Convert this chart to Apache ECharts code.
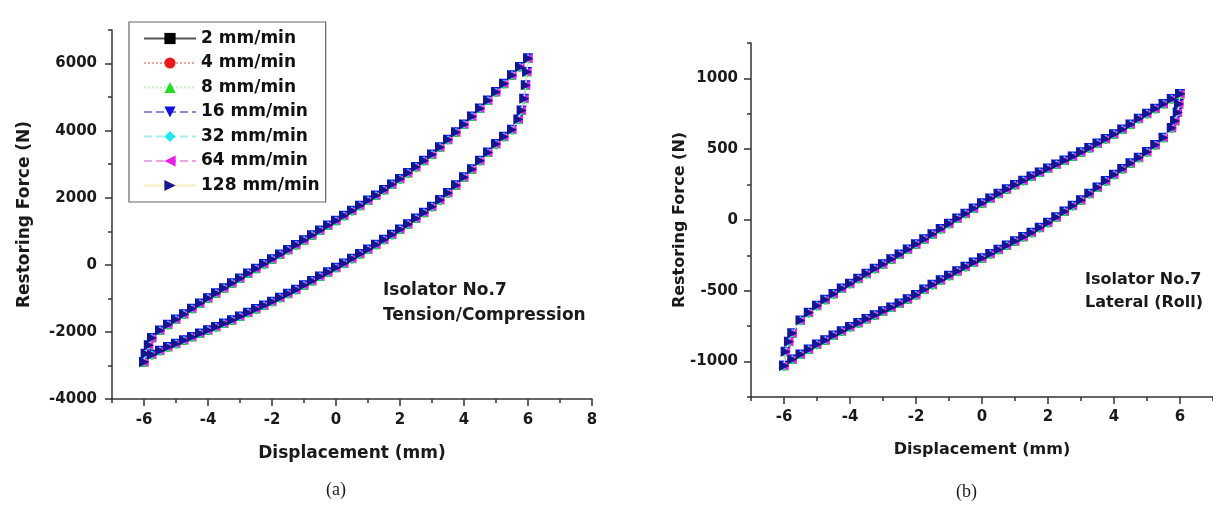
<!DOCTYPE html>
<html>
<head>
<meta charset="utf-8">
<script src="https://cdn.jsdelivr.net/npm/echarts/dist/echarts.min.js"></script>
<style>
  html, body { margin: 0; padding: 0; background: #fff; }
  #main { width: 1213px; height: 505px; }
</style>
</head>
<body>
<div id="main"></div>
<script>
// loading rates (legend entries)
var speeds = ['2 mm/min', '4 mm/min', '8 mm/min', '16 mm/min', '32 mm/min', '64 mm/min', '128 mm/min'];

// (a) tension / compression loop, loading branch then unloading branch
var leftUpX = [-6, -5.95, -5.85, -5.75, -5.5, -5.25, -5, -4.75, -4.5, -4.25, -4, -3.75, -3.5, -3.25, -3, -2.75, -2.5, -2.25, -2, -1.75, -1.5, -1.25, -1, -0.75, -0.5, -0.25, 0, 0.25, 0.5, 0.75, 1, 1.25, 1.5, 1.75, 2, 2.25, 2.5, 2.75, 3, 3.25, 3.5, 3.75, 4, 4.25, 4.5, 4.75, 5, 5.25, 5.5, 5.75, 6];
var leftUpY = [-2900, -2650, -2400, -2180, -1960, -1790, -1630, -1470, -1310, -1155, -1000, -850, -700, -550, -405, -260, -115, 25, 165, 305, 445, 590, 735, 880, 1025, 1170, 1315, 1460, 1610, 1760, 1915, 2070, 2230, 2395, 2560, 2735, 2915, 3100, 3290, 3505, 3730, 3950, 4180, 4420, 4660, 4900, 5150, 5400, 5650, 5900, 6150];
var leftDownX = [6, 5.97, 5.93, 5.88, 5.8, 5.7, 5.5, 5.25, 5, 4.75, 4.5, 4.25, 4, 3.75, 3.5, 3.25, 3, 2.75, 2.5, 2.25, 2, 1.75, 1.5, 1.25, 1, 0.75, 0.5, 0.25, 0, -0.25, -0.5, -0.75, -1, -1.25, -1.5, -1.75, -2, -2.25, -2.5, -2.75, -3, -3.25, -3.5, -3.75, -4, -4.25, -4.5, -4.75, -5, -5.25, -5.5, -5.75, -6];
var leftDownY = [6150, 5750, 5350, 4950, 4600, 4330, 4030, 3820, 3600, 3350, 3100, 2850, 2610, 2370, 2140, 1930, 1730, 1550, 1380, 1210, 1050, 900, 750, 600, 460, 320, 180, 40, -90, -220, -350, -480, -610, -740, -860, -980, -1100, -1210, -1320, -1430, -1540, -1650, -1750, -1850, -1950, -2050, -2150, -2250, -2350, -2450, -2560, -2680, -2900];

// (b) lateral (roll) loop
var rightUpX = [-6, -5.95, -5.85, -5.75, -5.5, -5.25, -5, -4.75, -4.5, -4.25, -4, -3.75, -3.5, -3.25, -3, -2.75, -2.5, -2.25, -2, -1.75, -1.5, -1.25, -1, -0.75, -0.5, -0.25, 0, 0.25, 0.5, 0.75, 1, 1.25, 1.5, 1.75, 2, 2.25, 2.5, 2.75, 3, 3.25, 3.5, 3.75, 4, 4.25, 4.5, 4.75, 5, 5.25, 5.5, 5.75, 6];
var rightUpY = [-1030, -930, -860, -800, -710, -655, -605, -563, -522, -484, -450, -415, -380, -345, -312, -278, -244, -208, -172, -136, -100, -63, -27, 10, 45, 82, 118, 152, 185, 217, 248, 278, 307, 336, 364, 392, 420, 448, 478, 508, 540, 572, 605, 640, 675, 715, 750, 785, 820, 855, 890];
var rightDownX = [6, 5.97, 5.93, 5.85, 5.75, 5.5, 5.25, 5, 4.75, 4.5, 4.25, 4, 3.75, 3.5, 3.25, 3, 2.75, 2.5, 2.25, 2, 1.75, 1.5, 1.25, 1, 0.75, 0.5, 0.25, 0, -0.25, -0.5, -0.75, -1, -1.25, -1.5, -1.75, -2, -2.25, -2.5, -2.75, -3, -3.25, -3.5, -3.75, -4, -4.25, -4.5, -4.75, -5, -5.25, -5.5, -5.75, -6];
var rightDownY = [890, 820, 760, 700, 650, 580, 530, 480, 440, 400, 360, 320, 275, 230, 185, 140, 100, 60, 20, -20, -55, -90, -120, -150, -180, -210, -240, -270, -300, -330, -362, -393, -425, -458, -490, -530, -560, -590, -618, -645, -672, -700, -728, -755, -785, -815, -850, -880, -915, -950, -985, -1030];

var FONT = 'DejaVu Sans';
var INK = '#1a1a1a';

function loop(upX, upY, downX, downY) {
  var pts = [];
  upX.forEach(function (x, i) { pts.push([x, upY[i]]); });
  downX.forEach(function (x, i) { pts.push([x, downY[i]]); });
  return pts;
}

// marker / line look of each rate
var looks = [
  {symbol: 'rect', size: 8, color: '#000000', line: '#555555', type: 'solid'},
  {symbol: 'circle', size: 9, color: '#ee1a1a', line: '#f2a3a3', type: 'dotted'},
  {symbol: 'triangle', size: 9, color: '#22dd22', line: '#c5efc5', type: 'dotted'},
  {symbol: 'path://M0,0 L10,0 L5,10 Z', size: 10, color: '#1010e0', line: '#8c8cd0', type: 'dashed'},
  {symbol: 'diamond', size: 9, color: '#22e6ee', line: '#a8ecf2', type: 'dashed'},
  {symbol: 'path://M10,0 L10,10 L0,5 Z', size: 9, color: '#e81ee8', line: '#e6a8e6', type: 'dashed'},
  {symbol: 'path://M0,0 L0,10 L10,5 Z', size: 10, color: '#15158f', line: '#f3efc4', type: 'solid'}
];

function buildSeries(xIdx, yIdx, pts) {
  return speeds.map(function (name, k) {
    var lk = looks[k];
    return {
      name: name,
      type: 'line',
      xAxisIndex: xIdx,
      yAxisIndex: yIdx,
      data: pts,
      symbol: lk.symbol,
      symbolSize: lk.size,
      showAllSymbol: true,
      itemStyle: {color: lk.color},
      lineStyle: {color: lk.line, width: 0.8, type: lk.type},
      z: 3 + k
    };
  });
}

var tickStyle = {color: '#333', width: 1.5};
var plain = function (v) { return String(v); };
function labelStyle(margin, extra) {
  return Object.assign({margin: margin, fontFamily: FONT, fontWeight: 'bold', fontSize: 15, color: INK, formatter: plain}, extra || {});
}
function nameStyle(size) {
  return {fontFamily: FONT, fontWeight: 'bold', fontSize: size, color: INK};
}

// axis with its line, ticks and title
function frameAxis(grid, min, max, step, name, gap, nameSize, labels) {
  return {
    type: 'value', gridIndex: grid, min: min, max: max, interval: step,
    axisLine: {onZero: false, lineStyle: {color: '#333', width: 1.5}},
    axisTick: {length: labels ? 7 : 4, lineStyle: tickStyle},
    axisLabel: labels ? labelStyle(labels.margin, {showMaxLabel: false}) : {show: false},
    splitLine: {show: false},
    name: name, nameLocation: 'middle', nameGap: gap, nameTextStyle: nameStyle(nameSize)
  };
}
// extra tick rows (long ticks + labels, or short minor ticks) without a line
function tickAxis(grid, pos, min, max, step, len, margin) {
  return {
    type: 'value', gridIndex: grid, position: pos, min: min, max: max, interval: step,
    axisLine: {show: false, onZero: false},
    axisTick: {length: len, lineStyle: tickStyle},
    axisLabel: margin ? labelStyle(margin) : {show: false},
    splitLine: {show: false}
  };
}
function hiddenAxis(grid, min, max) {
  return {type: 'value', gridIndex: grid, min: min, max: max, show: false, axisLine: {onZero: false}};
}

var chart = echarts.init(document.getElementById('main'), null, {renderer: 'canvas'});
var option = {
  animation: false,
  backgroundColor: '#fff',
  grid: [
    {left: 112, top: 30, width: 480, height: 369, outerBoundsMode: 'none'},   // (a) frame
    {left: 751, top: 43, width: 462, height: 354, outerBoundsMode: 'none'},   // (b) frame
    {left: 144, top: 30, width: 448, height: 369, outerBoundsMode: 'none'},   // (a) x labels -6..8
    {left: 784, top: 43, width: 396, height: 354, outerBoundsMode: 'none'},   // (b) x labels -6..6
    {left: 751, top: 78.4, width: 462, height: 283.2, outerBoundsMode: 'none'} // (b) y labels -1000..1000
  ],
  legend: {
    data: speeds,
    orient: 'vertical',
    left: 129, top: 22,
    padding: [8, 6, 8, 14],
    itemWidth: 52, itemHeight: 14, itemGap: 7.5,
    borderColor: '#666', borderWidth: 1.2,
    textStyle: {fontFamily: FONT, fontWeight: 'bold', fontSize: 17, lineHeight: 17, color: '#111'}
  },
  xAxis: [
    frameAxis(0, -7, 8, 1, 'Displacement (mm)', 46, 17, null),
    frameAxis(1, -7, 7, 1, 'Displacement (mm)', 45, 16, null),
    tickAxis(2, 'bottom', -6, 8, 2, 7, 14),
    tickAxis(3, 'bottom', -6, 6, 2, 7, 13),
    hiddenAxis(4, -7, 7)
  ],
  yAxis: [
    frameAxis(0, -4000, 7000, 2000, 'Restoring Force (N)', 79, 17, {margin: 15}),
    tickAxis(0, 'left', -4000, 7000, 1000, 4, 0),
    frameAxis(1, -1250, 1250, 250, 'Restoring Force (N)', 63, 16, null),
    hiddenAxis(2, -4000, 7000),
    hiddenAxis(3, -1250, 1250),
    tickAxis(4, 'left', -1000, 1000, 500, 7, 13)
  ],
  graphic: [
    {type: 'text', left: 383, top: 278, style: {text: 'Isolator No.7\nTension/Compression', font: 'bold 17px "DejaVu Sans"', fill: INK, lineHeight: 25}},
    {type: 'text', left: 1085, top: 268, style: {text: 'Isolator No.7\nLateral (Roll)', font: 'bold 16px "DejaVu Sans"', fill: INK, lineHeight: 23}},
    {type: 'text', left: 326, top: 481, style: {text: '(a)', font: '18px "Liberation Serif"', fill: INK}},
    {type: 'text', left: 956, top: 483, style: {text: '(b)', font: '18px "Liberation Serif"', fill: INK}}
  ],
  series: buildSeries(0, 0, loop(leftUpX, leftUpY, leftDownX, leftDownY))
    .concat(buildSeries(1, 2, loop(rightUpX, rightUpY, rightDownX, rightDownY)))
};
chart.setOption(option);
</script>
</body>
</html>
